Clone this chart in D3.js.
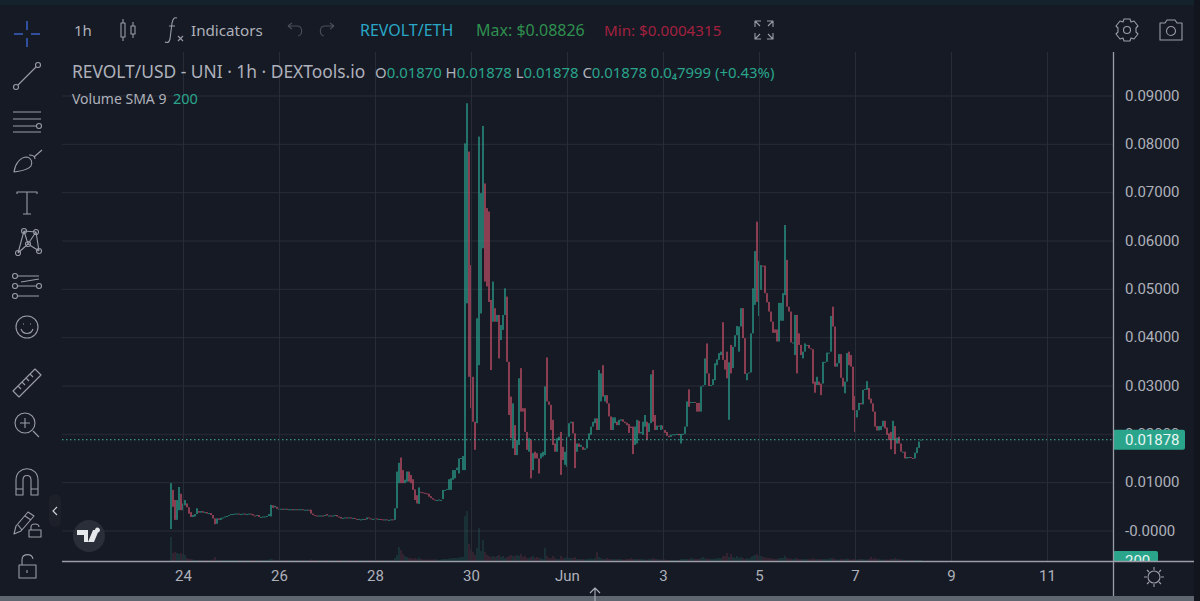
<!DOCTYPE html>
<html>
<head>
<meta charset="utf-8">
<script src="https://cdn.jsdelivr.net/npm/d3@7"></script>
<style>
html,body{margin:0;padding:0;background:#161a25;overflow:hidden}
svg{display:block}
text{font-family:"Noto Sans",sans-serif}
</style>
</head>
<body>
<svg id="chart" width="1200" height="601"></svg>
<script>
// hourly candles (10 per row)
var firstCandle=new Date(Date.UTC(2021,4,23,18))
var opens=[
.0003,.0084,.0063,.0022,.0042,.0076,.0042,.0052,.0056,.0048,
.0038,.0028,.0029,.0034,.0040,.0037,.0040,.0037,.0038,.0035,
.0036,.0032,.0025,.0014,.0025,.0022,.0026,.0027,.0029,.0030,
.0032,.0034,.0034,.0035,.0035,.0034,.0034,.0035,.0034,.0034,
.0035,.0034,.0031,.0030,.0032,.0028,.0028,.0029,.0029,.0030,
.0029,.0052,.0048,.0049,.0045,.0045,.0045,.0044,.0045,.0044,
.0044,.0044,.0043,.0044,.0043,.0044,.0044,.0043,.0043,.0043,
.0043,.0035,.0032,.0031,.0029,.0031,.0031,.0030,.0034,.0031,
.0031,.0030,.0031,.0032,.0029,.0028,.0026,.0026,.0027,.0026,
.0027,.0026,.0026,.0024,.0023,.0023,.0023,.0024,.0023,.0027,
.0025,.0024,.0024,.0025,.0024,.0024,.0023,.0022,.0023,.0022,
.0022,.0023,.0022,.0046,.0098,.0151,.0125,.0098,.0101,.0122,
.0115,.0106,.0085,.0073,.0055,.0080,.0079,.0078,.0077,.0076,
.0071,.0067,.0064,.0063,.0063,.0063,.0065,.0083,.0084,.0084,
.0084,.0105,.0108,.0125,.0118,.0149,.0125,.0125,.0470,.0784,
.0549,.0318,.0225,.0222,.0342,.0449,.0584,.0718,.0667,.0660,
.0477,.0432,.0460,.0432,.0446,.0394,.0415,.0446,.0484,.0349,
.0277,.0170,.0218,.0156,.0177,.0336,.0253,.0253,.0204,.0163,
.0187,.0125,.0163,.0160,.0149,.0149,.0153,.0156,.0358,.0267,
.0260,.0229,.0180,.0163,.0187,.0204,.0173,.0136,.0132,.0194,
.0222,.0225,.0201,.0163,.0180,.0173,.0173,.0167,.0170,.0187,
.0198,.0215,.0222,.0232,.0208,.0267,.0342,.0267,.0280,.0263,
.0236,.0208,.0222,.0225,.0218,.0227,.0230,.0225,.0223,.0220,
.0215,.0215,.0177,.0180,.0227,.0201,.0198,.0215,.0225,.0204,
.0222,.0332,.0239,.0208,.0217,.0208,.0217,.0208,.0204,.0196,
.0194,.0198,.0199,.0199,.0200,.0180,.0198,.0200,.0215,.0292,
.0264,.0266,.0266,.0264,.0264,.0246,.0298,.0301,.0387,.0325,
.0299,.0301,.0311,.0342,.0353,.0363,.0431,.0353,.0370,.0229,
.0384,.0336,.0380,.0404,.0370,.0422,.0460,.0398,.0311,.0325,
.0327,.0408,.0467,.0639,.0444,.0498,.0548,.0548,.0491,.0473,
.0453,.0432,.0416,.0416,.0391,.0434,.0434,.0487,.0560,.0463,
.0453,.0389,.0363,.0446,.0408,.0384,.0356,.0370,.0384,.0384,
.0377,.0375,.0308,.0301,.0308,.0304,.0304,.0349,.0349,.0368,
.0370,.0463,.0422,.0339,.0346,.0365,.0316,.0284,.0308,.0370,
.0363,.0339,.0278,.0234,.0249,.0264,.0261,.0291,.0291,.0295,
.0273,.0263,.0246,.0216,.0207,.0208,.0215,.0227,.0213,.0201,
.0204,.0187,.0216,.0180,.0194,.0180,.0163,.0163,.0149,.0152,
.0152,.0150,.0149,.0160,.0171,.0187]
var closes=[
.0098,.0049,.0022,.0063,.0090,.0042,.0056,.0063,.0048,.0035,
.0028,.0032,.0034,.0046,.0037,.0040,.0037,.0038,.0035,.0036,
.0032,.0025,.0013,.0025,.0022,.0026,.0027,.0029,.0030,.0032,
.0034,.0034,.0035,.0035,.0034,.0034,.0035,.0034,.0034,.0035,
.0034,.0031,.0030,.0032,.0028,.0028,.0029,.0029,.0030,.0034,
.0053,.0047,.0051,.0045,.0045,.0045,.0044,.0045,.0044,.0044,
.0044,.0043,.0044,.0043,.0044,.0044,.0043,.0043,.0043,.0041,
.0035,.0032,.0030,.0029,.0031,.0031,.0030,.0032,.0031,.0031,
.0030,.0031,.0032,.0029,.0028,.0025,.0026,.0027,.0026,.0027,
.0026,.0026,.0024,.0023,.0024,.0023,.0024,.0023,.0027,.0025,
.0024,.0024,.0025,.0024,.0024,.0023,.0022,.0023,.0022,.0022,
.0023,.0022,.0046,.0122,.0140,.0098,.0098,.0105,.0122,.0101,
.0098,.0084,.0063,.0056,.0089,.0079,.0078,.0077,.0076,.0070,
.0067,.0064,.0063,.0063,.0064,.0063,.0084,.0084,.0086,.0106,
.0108,.0125,.0125,.0130,.0149,.0150,.0154,.0801,.0884,.0318,
.0253,.0225,.0167,.0439,.0815,.0698,.0837,.0515,.0505,.0473,
.0332,.0515,.0432,.0446,.0356,.0425,.0446,.0501,.0349,.0239,
.0191,.0263,.0156,.0187,.0315,.0246,.0246,.0204,.0167,.0191,
.0108,.0160,.0149,.0149,.0118,.0160,.0163,.0298,.0267,.0260,
.0208,.0177,.0163,.0191,.0194,.0115,.0146,.0163,.0194,.0222,
.0225,.0201,.0129,.0180,.0173,.0177,.0167,.0170,.0187,.0201,
.0215,.0225,.0232,.0208,.0332,.0325,.0277,.0280,.0263,.0236,
.0208,.0234,.0234,.0218,.0229,.0230,.0225,.0222,.0218,.0202,
.0212,.0158,.0215,.0229,.0201,.0204,.0225,.0239,.0187,.0222,
.0323,.0225,.0208,.0217,.0215,.0218,.0210,.0202,.0196,.0193,
.0198,.0199,.0199,.0200,.0197,.0200,.0200,.0215,.0267,.0256,
.0266,.0266,.0264,.0246,.0246,.0298,.0300,.0356,.0325,.0299,
.0301,.0313,.0346,.0354,.0367,.0370,.0353,.0333,.0315,.0348,
.0325,.0380,.0404,.0423,.0422,.0460,.0398,.0324,.0325,.0327,
.0408,.0501,.0578,.0473,.0558,.0549,.0546,.0491,.0472,.0453,
.0432,.0409,.0409,.0391,.0471,.0471,.0491,.0632,.0463,.0453,
.0389,.0389,.0446,.0325,.0384,.0363,.0370,.0387,.0384,.0377,
.0375,.0304,.0285,.0318,.0301,.0280,.0349,.0349,.0368,.0368,
.0444,.0422,.0339,.0346,.0365,.0316,.0298,.0308,.0367,.0342,
.0339,.0249,.0204,.0249,.0264,.0261,.0291,.0293,.0309,.0271,
.0263,.0246,.0215,.0207,.0216,.0216,.0227,.0211,.0198,.0187,
.0168,.0227,.0158,.0192,.0180,.0163,.0163,.0149,.0152,.0152,
.0150,.0149,.0161,.0172,.0184,.0188]
var volumes=[
2400,800,900,800,700,800,700,600,300,200,
200,150,100,100,100,100,100,100,100,100,
100,150,400,100,100,100,100,100,100,100,
100,100,100,100,100,100,100,100,100,100,
100,100,100,100,100,100,100,100,100,150,
200,150,100,100,100,100,100,100,100,100,
100,100,100,100,100,100,100,100,100,100,
150,100,100,100,100,100,100,100,100,100,
100,100,100,100,100,100,100,100,100,100,
100,100,100,100,100,100,100,100,100,100,
100,100,100,100,100,100,100,100,100,100,
100,100,300,600,1400,1100,700,500,400,300,
300,200,300,200,350,200,150,150,150,150,
150,150,150,150,100,150,200,200,200,250,
250,300,300,300,350,400,400,4500,5000,1700,
1200,900,600,1300,3300,1000,2100,900,600,500,
400,500,400,500,600,400,500,300,400,500,
600,500,500,600,500,700,400,500,300,300,
400,500,300,400,300,300,200,1300,500,300,
300,500,300,200,200,500,300,300,400,300,
300,300,400,200,200,200,200,150,200,200,
250,200,300,900,400,300,200,200,300,200,
200,200,200,200,200,200,150,150,200,200,
300,200,200,200,200,200,200,150,150,200,
200,300,200,200,150,150,150,150,100,100,
100,100,100,100,100,200,200,200,200,200,
300,250,200,200,200,300,400,250,250,200,
200,200,250,250,300,300,500,500,800,400,
700,400,300,500,300,400,300,200,300,200,
400,500,600,700,500,500,400,350,300,300,
250,250,200,200,300,300,300,500,300,250,
250,200,250,300,200,200,200,200,200,200,
200,300,200,200,200,200,200,200,200,200,
300,300,200,150,150,200,200,200,250,200,
150,200,200,150,200,200,200,150,150,200,
400,200,300,200,200,150,150,150,150,150,
200,200,300,200,200,150,150,100,100,100,
100,100,100,100,100,100]

var xTickDates=[new Date(Date.UTC(2021,4,24)),new Date(Date.UTC(2021,4,26)),new Date(Date.UTC(2021,4,28)),new Date(Date.UTC(2021,4,30)),
  new Date(Date.UTC(2021,5,1)),new Date(Date.UTC(2021,5,3)),new Date(Date.UTC(2021,5,5)),new Date(Date.UTC(2021,5,7)),new Date(Date.UTC(2021,5,9)),new Date(Date.UTC(2021,5,11))]
var xTickLabels=["24","26","28","30","Jun","3","5","7","9","11"]
var yTicks=[0,.01,.02,.03,.04,.05,.06,.07,.08,.09]
var yTickLabels=["-0.0000","0.01000","0.02000","0.03000","0.04000","0.05000","0.06000","0.07000","0.08000","0.09000"]
var lastPrice=0.01878
var volumeSma=200

var green="#2fae9a"
var red="#d9566f"
var grid="#282c37"
var textGrey="#aeb1ba"
var iconGrey="#9a9da6"

var svg=d3.select("#chart")
svg.append("rect").attr("width",1200).attr("height",601).attr("fill","#161a25")
svg.append("rect").attr("width",1200).attr("height",5).attr("fill","#14232b")

var x=d3.scaleUtc().domain([xTickDates[0],xTickDates[9]]).range([183,1047])
var y=d3.scaleLinear().domain([0,.09]).range([530.5,95.5])
var yVol=d3.scaleLinear().domain([0,4000]).range([561,521])

// axes, the domain paths are drawn separately
var yAxis=d3.axisRight(y).tickValues(yTicks).tickSize(-1051).tickPadding(12)
  .tickFormat(function(d,i){return yTickLabels[i]})
var gy=svg.append("g").attr("transform","translate(1113,0)").call(yAxis)
gy.select(".domain").remove()
gy.selectAll("line").attr("stroke",grid)
gy.selectAll("text").attr("fill",textGrey).style("font-size","15px").style("font-family","Roboto").attr("x",12)

var xAxis=d3.axisBottom(x).tickValues(xTickDates).tickSize(-509).tickPadding(9)
  .tickFormat(function(d,i){return xTickLabels[i]})
var gx=svg.append("g").attr("transform","translate(0,561)").call(xAxis)
gx.select(".domain").remove()
gx.selectAll("line").attr("stroke",grid)
gx.selectAll("text").attr("fill",textGrey).style("font-size","15px").style("font-family","Roboto")

// volume first, candles go over it
svg.append("g").selectAll("rect").data(volumes).enter().append("rect")
  .attr("x",function(d,i){return x(d3.utcHour.offset(firstCandle,i))-.5})
  .attr("width",1)
  .attr("y",function(d){return yVol(d)})
  .attr("height",function(d){return 561-yVol(d)})
  .attr("fill",function(d,i){return closes[i]>=opens[i]?green:red})
  .attr("opacity",.3)

svg.append("g").selectAll("rect").data(opens).enter().append("rect")
  .attr("x",function(d,i){return x(d3.utcHour.offset(firstCandle,i))-.6})
  .attr("width",1.2)
  .attr("y",function(d,i){return y(Math.max(d,closes[i]))})
  .attr("height",function(d,i){return Math.max(1,Math.abs(y(d)-y(closes[i])))})
  .attr("fill",function(d,i){return closes[i]>=d?green:red})

// last price line and labels
svg.append("line").attr("x1",62).attr("x2",1113).attr("y1",y(lastPrice)).attr("y2",y(lastPrice))
  .attr("stroke","#3fb5a3").attr("stroke-width",1).attr("stroke-dasharray","1.5 2.5")
svg.append("rect").attr("x",1113).attr("y",y(lastPrice)-10).attr("width",72).attr("height",20).attr("rx",2).attr("fill","#2aa58c")
svg.append("text").attr("x",1125).attr("y",y(lastPrice)+5.5).attr("fill","#e8f5f2").style("font-size","15px").style("font-family","Roboto").text(lastPrice.toFixed(5))

svg.append("rect").attr("x",1113).attr("y",551).attr("width",45).attr("height",18).attr("rx",2).attr("fill","#2aa58c")
svg.append("text").attr("x",1125).attr("y",566).attr("fill","#e8f5f2").style("font-size","15px").style("font-family","Roboto").text(volumeSma)

// panel edges
svg.append("rect").attr("x",62).attr("y",562).attr("width",1140).attr("height",40).attr("fill","#161a25")
gx.raise()
svg.append("line").attr("x1",62).attr("x2",1194).attr("y1",561.5).attr("y2",561.5).attr("stroke","#9a9da6").attr("stroke-width",1.3)
svg.append("line").attr("x1",1113.5).attr("x2",1113.5).attr("y1",52).attr("y2",596).attr("stroke","#9a9da6").attr("stroke-width",1.3)
svg.append("rect").attr("x",0).attr("y",596).attr("width",1194).attr("height",5).attr("fill","#5f6670")
svg.append("rect").attr("x",1194).attr("y",0).attr("width",6).attr("height",601).attr("fill","#12151e")

// header texts
function label(txt,px,py,size,color){
  return svg.append("text").attr("x",px).attr("y",py).attr("fill",color).style("font-size",size+"px").text(txt)
}
label("1h",74,36,15,textGrey)
label("Indicators",191,36,15.2,textGrey)
label("REVOLT/ETH",360,36,16,"#2aa7c7")
label("Max: $0.08826",476,36,16,"#2f8f4f")
label("Min: $0.0004315",604,36,15.2,"#a3213f")
label("REVOLT/USD - UNI · 1h · DEXTools.io",72,78,17.4,textGrey)
var ohlc=label("",375,78,14.9,"#2aa58c")
ohlc.append("tspan").attr("fill",textGrey).text("O")
ohlc.append("tspan").text("0.01870 ")
ohlc.append("tspan").attr("fill",textGrey).text("H")
ohlc.append("tspan").text("0.01878 ")
ohlc.append("tspan").attr("fill",textGrey).text("L")
ohlc.append("tspan").text("0.01878 ")
ohlc.append("tspan").attr("fill",textGrey).text("C")
ohlc.append("tspan").text("0.01878  0.0₄7999 (+0.43%)")
label("Volume SMA 9",72,104,14,textGrey)
label(volumeSma,173,104,14.5,"#2aa58c")

// toolbar icons, plain outlines
function icon(px,py,d,color,w){
  return svg.append("path").attr("transform","translate("+px+","+py+")").attr("d",d)
    .attr("fill","none").attr("stroke",color||iconGrey).attr("stroke-width",w||1.1).attr("stroke-linejoin","round")
}
function ring(r,cx,cy){return "M"+(cx-r)+" "+cy+"a"+r+" "+r+" 0 1 0 "+(2*r)+" 0a"+r+" "+r+" 0 1 0 "+(-2*r)+" 0"}

icon(27,34,"M-13 0H-4M4 0H13M0 -13V-4M0 4V13","#3a62c8",1.5)
icon(27,76,"M-9 9L9 -9"+ring(2.5,-11,11)+ring(2.5,11,-11))
icon(27,120,"M-14 -8H14M-14 -1H14M-14 6H9M-14 12H14"+ring(2.5,12,6))
icon(27,160,"M-13 12C-12 4 -7 -3 0 -3C4 -2 6 2 4 6C0 11 -7 11 -13 12ZM2 -5C5 -5 8 -4 8 -1M7 -3L15 -10")
icon(27,203,"M-10 -9V-11H10V-9M0 -11V11M-4 11H4")
icon(27,243,"M-9 10L-3 -12L1 1L9 -11L12 8M-9 10L1 1L12 8M-3 -12L9 -11"+ring(2.5,-3,-12)+ring(2.5,9,-11)+ring(2.5,1,1)+ring(2.5,-9,10)+ring(2.5,12,8))
icon(27,286,"M-9 -10H12M-9 0H10M-9 10H12M-6 -4L12 -7"+ring(2.5,-12,-10)+ring(2.5,-12,0)+ring(2.5,12,0)+ring(2.5,-12,10))
icon(27,327,ring(11,0,0)+"M-6 2C-4 8 4 8 6 2M-4 -3h1M3 -3h1")
icon(27,383,"M-14 8L8 -14L14 -8L-8 14ZM-9 3L-6 6M-5 -1L-2 2M-1 -5L2 -2M3 -9L6 -6")
icon(27,424,ring(10,-2,-1)+"M-7 -1H3M-2 -6V4M6 7L12 13")
icon(27,482,"M-11 13V-2C-11 -17 11 -17 11 -2V13H4V-2C4 -8 -4 -8 -4 -2V13ZM-11 7H-4M4 7H11")
icon(27,522,"M-13 12L-11 4L1 -10L7 -6L-6 9ZM-2 -6L4 -2M-9 3L-5 8M2 8H14V15H2ZM4 8V5C4 1 12 1 12 5")
icon(27,567,"M-8 -2H9V11H-8ZM-5 -2V-7C-5 -14 5 -14 6 -8M0 3V6")
svg.append("rect").attr("x",49).attr("y",494).attr("width",12).attr("height",33).attr("rx",6).attr("fill","#1d2029")
icon(55,511,"M2 -4L-2 0L2 4","#d0d2d8")

icon(127,30,"M-6 -7h4v14h-4zM-4 -11v4M-4 7v4M4 -4h4v8h-4zM6 -8v4M6 4v4",iconGrey)
icon(173,30,"M4 -12C1 -13 0 -11 -1 -7L-3 9C-4 13 -6 13 -8 12M-4 -4H2M5 6L10 11M10 6L5 11")
icon(295,30,"M-7 -4L-3 -7M-7 -4L-3 -1M-7 -4H2C8 -4 8 5 3 6","#4b4e58")
icon(327,30,"M7 -4L3 -7M7 -4L3 -1M7 -4H-2C-8 -4 -8 5 -3 6","#4b4e58")
icon(764,30,"M-3 -9L-9 -9L-9 -3M-9 -9L-4 -4M3 -9L9 -9L9 -3M9 -9L4 -4M-3 9L-9 9L-9 3M-9 9L-4 4M3 9L9 9L9 3M9 9L4 4")
icon(1127,30,ring(3.5,0,0)+"M-3 -11H3L4 -8L7 -9L11 -4L9 -2V2L11 4L7 9L4 8L3 11H-3L-4 8L-7 9L-11 4L-9 2V-2L-11 -4L-7 -9L-4 -8Z")
icon(1171,30,"M-11 -7H-6L-4 -10H4L6 -7H11V10H-11Z"+ring(4.5,0,1))
icon(1154,577,ring(6,0,0)+"M0 -10V-7M0 7V10M-10 0H-7M7 0H10M-7 -7L-5 -5M5 5L7 7M7 -7L5 -5M-5 5L-7 7")
icon(595,594,"M-5 -1L0 -6L5 -1M0 -6V8",textGrey)

// tv logo
svg.append("circle").attr("cx",89).attr("cy",536).attr("r",16).attr("fill","#2a2e39")
svg.append("path").attr("transform","translate(89,536)").attr("fill","#e6e7ea")
  .attr("d","M-12 -6H-1V6H-5V-1H-12ZM6 -6A2.5 2.5 0 1 1 6 -5.9ZM-1 6L4 -6H10L5 6Z")
</script>
</body>
</html>
